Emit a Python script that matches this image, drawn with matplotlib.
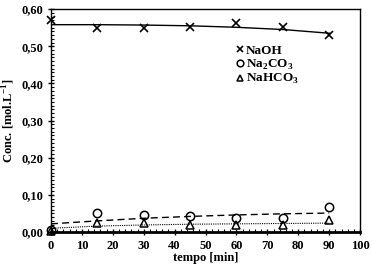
import matplotlib
matplotlib.use("Agg")
from matplotlib import pyplot as plt
from matplotlib.ticker import MultipleLocator, FuncFormatter

plt.rcParams['font.family'] = 'Liberation Serif'
plt.rcParams['font.weight'] = 'bold'
plt.rcParams['mathtext.fontset'] = 'custom'
plt.rcParams['mathtext.rm'] = 'Liberation Serif:bold'
plt.rcParams['mathtext.bf'] = 'Liberation Serif:bold'

# measured points
t = [0, 15, 30, 45, 60, 75, 90]
naoh = [0.570, 0.548, 0.550, 0.553, 0.562, 0.551, 0.530]
na2co3 = [0.005, 0.052, 0.047, 0.043, 0.038, 0.037, 0.066]
nahco3 = [0.003, 0.024, 0.023, 0.020, 0.018, 0.018, 0.032]

# model curves
t_fit = [0, 15, 30, 45, 60, 75, 90]
naoh_fit = [0.558, 0.558, 0.557, 0.555, 0.551, 0.545, 0.535]
na2co3_fit = [0.022, 0.030, 0.037, 0.042, 0.046, 0.049, 0.051]
nahco3_fit = [0.010, 0.016, 0.019, 0.021, 0.022, 0.023, 0.024]

fig = plt.figure(figsize=(3.72, 2.67), dpi=100)
ax = fig.add_axes([0.137, 0.131, 0.831, 0.835])

ax.plot(t_fit, naoh_fit, color='black', lw=1.0)
ax.plot(t_fit, na2co3_fit, color='black', lw=1.0, ls=(0, (5, 3)))
ax.plot(t_fit, nahco3_fit, color='black', lw=0.8, ls=(0, (1, 1)))

ax.plot(t, naoh, 'x', color='black', ms=6, mew=1.2, label='NaOH', clip_on=False)
ax.plot(t, na2co3, 'o', mfc='none', mec='black', ms=6, mew=1.1, label=r'Na$_2$CO$_3$', clip_on=False)
ax.plot(t, nahco3, '^', mfc='none', mec='black', ms=6, mew=1.1, label=r'NaHCO$_3$', clip_on=False)

ax.set_xlim(0, 100)
ax.set_ylim(0, 0.6)
ax.xaxis.set_major_locator(MultipleLocator(10))
ax.xaxis.set_minor_locator(MultipleLocator(2))
ax.yaxis.set_major_locator(MultipleLocator(0.1))
ax.yaxis.set_minor_locator(MultipleLocator(0.01))
ax.yaxis.set_major_formatter(FuncFormatter(lambda v, p: ('%.2f' % v).replace('.', ',')))

ax.tick_params(which='major', direction='inout', length=5, width=1.0, labelsize=9, pad=3, top=False, right=False)
ax.tick_params(which='minor', direction='in', length=2, width=0.8, top=False, right=False)
for s in ['left', 'top', 'right']:
    ax.spines[s].set_linewidth(1.0)
ax.spines['bottom'].set_linewidth(2.0)

ax.set_xlabel('tempo [min]', fontsize=9, fontweight='bold', labelpad=0)
ax.set_ylabel(r'Conc. [mol.L$^{-1}$]', fontsize=9, fontweight='bold', labelpad=3)

ax.legend(loc='upper left', bbox_to_anchor=(0.58, 0.87), frameon=False,
          prop={'family': 'Liberation Serif', 'weight': 'bold', 'size': 9.5},
          markerscale=0.8, handlelength=0.5, handletextpad=0.2, labelspacing=0.05, borderpad=0)

fig.savefig('out.png', dpi=100)
